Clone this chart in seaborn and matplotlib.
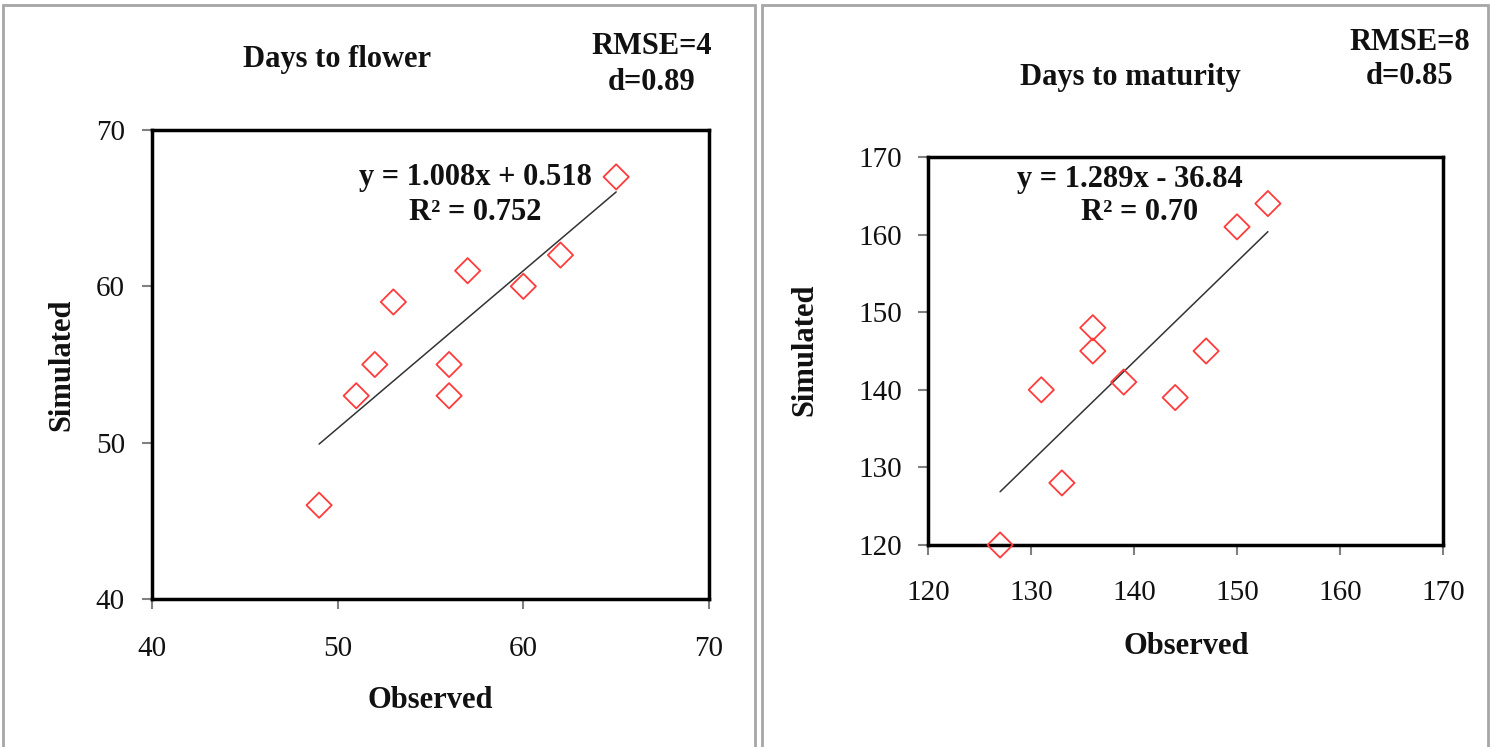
import matplotlib
matplotlib.use("Agg")
import matplotlib.pyplot as plt
import seaborn as sns
import pandas as pd
import numpy as np
from matplotlib.patches import Rectangle

# ---- data ----
flower_observed = [49, 51, 52, 53, 56, 56, 57, 60, 62, 65]
flower_simulated = [46, 53, 55, 59, 55, 53, 61, 60, 62, 67]
flower_fit = (1.008, 0.518)

maturity_observed = [127, 131, 133, 136, 136, 139, 144, 147, 150, 153]
maturity_simulated = [120, 140, 128, 148, 145, 141, 139, 145, 161, 164]
maturity_fit = (1.289, -36.84)

sns.set_theme(style="white")
plt.rcParams['font.family'] = ['Liberation Serif', 'DejaVu Serif']

W, H = 1490, 747
fig = plt.figure(figsize=(W / 100, H / 100), dpi=100)


def px_axes(x0, y0, x1, y1):
    return fig.add_axes([x0 / W, 1 - y1 / H, (x1 - x0) / W, (y1 - y0) / H])


def ftext(x, y, s, **kw):
    fig.text(x / W, 1 - y / H, s, ha='center', va='center', **kw)


# panel frames
for (x0, x1) in [(3, 755), (762, 1488)]:
    fig.patches.append(Rectangle((x0 / W, -0.01), (x1 - x0) / W, 1 - 5 / H + 0.01,
                                 transform=fig.transFigure, fill=False,
                                 edgecolor='#A6A6A6', linewidth=2))


def panel(ax, obs, sim, fit, lim, ticks, xpad, ypad):
    df = pd.DataFrame({'Observed': obs, 'Simulated': sim})
    xs = np.array([min(obs), max(obs)], dtype=float)
    line_df = pd.DataFrame({'x': xs, 'y': fit[0] * xs + fit[1]})
    sns.lineplot(data=line_df, x='x', y='y', ax=ax, color='#333333', linewidth=1.1)
    sns.scatterplot(data=df, x='Observed', y='Simulated', ax=ax, marker='D',
                    s=165, facecolor='none', edgecolor='#FF3B3B', linewidth=1.3,
                    zorder=5, clip_on=False)
    ax.set_xlim(*lim)
    ax.set_ylim(*lim)
    ax.set_xticks(ticks)
    ax.set_yticks(ticks)
    ax.set_xlabel('')
    ax.set_ylabel('')
    ax.tick_params(axis='both', which='both', direction='out', length=7.5, width=1.5,
                   color='#808080', labelsize=21, bottom=True, left=True)
    ax.tick_params(axis='x', pad=xpad)
    ax.tick_params(axis='y', pad=ypad)
    for s in ax.spines.values():
        s.set_color('black')
        s.set_linewidth(2.5)
    for lab in ax.get_xticklabels() + ax.get_yticklabels():
        lab.set_color('#111111')


ax1 = px_axes(152, 130, 709, 599)
panel(ax1, flower_observed, flower_simulated, flower_fit, (40, 70), [40, 50, 60, 70],
      xpad=19, ypad=12)
ax2 = px_axes(928, 157, 1443, 545)
panel(ax2, maturity_observed, maturity_simulated, maturity_fit, (120, 170),
      [120, 130, 140, 150, 160, 170], xpad=18, ypad=11)

bold = dict(fontweight='bold', fontsize=22, color='#111111')

# left panel texts
ftext(337, 60, 'Days to flower', **bold)
ftext(652, 47, 'RMSE=4', **bold)
ftext(652, 82, 'd=0.89', **bold)
ftext(475, 178, 'y = 1.008x + 0.518', **bold)
ftext(475, 213, 'R² = 0.752', **bold)
ftext(62, 365, 'Simulated', rotation=90, **bold)
ftext(430, 700, 'Observed', **bold)

# right panel texts
ftext(1130, 78, 'Days to maturity', **bold)
ftext(1410, 43, 'RMSE=8', **bold)
ftext(1410, 77, 'd=0.85', **bold)
ftext(1130, 180, 'y = 1.289x - 36.84', **bold)
ftext(1140, 213, 'R² = 0.70', **bold)
ftext(805, 350, 'Simulated', rotation=90, **bold)
ftext(1186, 647, 'Observed', **bold)

fig.savefig('out.png', dpi=100)
